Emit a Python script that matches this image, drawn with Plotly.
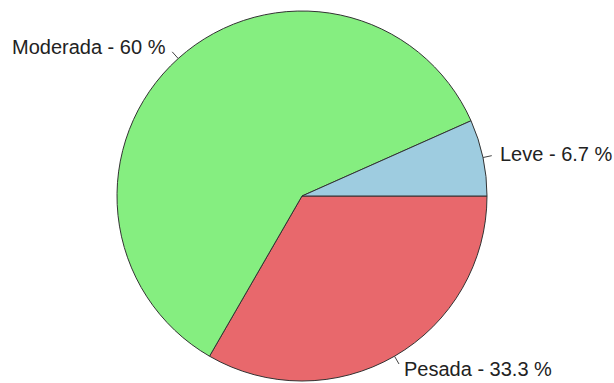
import math
import plotly.graph_objects as go

categories = ["Leve", "Moderada", "Pesada"]
counts = [1, 9, 5]
colors = ["#9ECCE0", "#85EE80", "#E8686C"]

W, H = 614, 383
ML, MR, MT, MB = 0, 10, 11, 2
pw, ph = W - ML - MR, H - MT - MB
R = min(pw, ph) / 2

# slices run counterclockwise from 3 o'clock; plotly is given them clockwise in reverse order
fig = go.Figure(go.Pie(
    labels=categories[::-1], values=counts[::-1], sort=False, direction="clockwise",
    rotation=90, marker=dict(colors=colors[::-1], line=dict(color="#333333", width=1)),
    textinfo="none", hoverinfo="label+percent", showlegend=False,
))

total = sum(counts)
cum = 0
for lab, v in zip(categories, counts):
    pct = v / total * 100
    mid = (cum + v / 2) / total * 2 * math.pi
    cum += v
    c, s = math.cos(mid), math.sin(mid)
    def to_paper(r):
        return 0.5 + r * c / pw, 0.5 + r * s / ph
    x0, y0 = to_paper(R)
    x1, y1 = to_paper(R + 9)
    fig.add_shape(type="line", xref="paper", yref="paper", x0=x0, y0=y0, x1=x1, y1=y1,
                  line=dict(color="#444444", width=1))
    xt, yt = to_paper(R + 15)
    txt = f"{lab} - {pct:.1f}".rstrip("0").rstrip(".") + " %"
    fig.add_annotation(x=xt, y=yt, xref="paper", yref="paper", text=txt, showarrow=False,
                       xanchor="left" if c >= 0 else "right", yanchor="middle",
                       font=dict(family="Liberation Sans, Arial", size=20, color="#222222"))

fig.update_layout(width=W, height=H, margin=dict(l=ML, r=MR, t=MT, b=MB),
                  paper_bgcolor="white", plot_bgcolor="white")
fig.write_html("out.html")
